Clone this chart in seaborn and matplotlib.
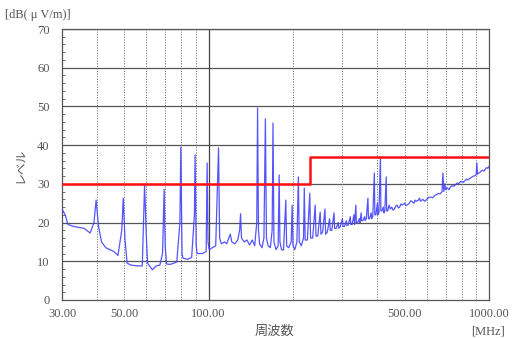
import matplotlib
matplotlib.use("Agg")
import matplotlib.pyplot as plt
import matplotlib.ticker as mticker
import numpy as np
import pandas as pd
import seaborn as sns

# Measured radiated emission (frequency in MHz, level in dB(uV/m))
freq_mhz = [
    30.0, 30.8, 31.5, 33.0, 36.0, 37.8, 39.0, 39.7, 40.5, 41.5, 43.0, 46.0, 47.5,
    49.0, 49.6, 50.3, 51.2, 53.0, 56.0, 58.0, 59.1, 60.0, 60.6, 62.0, 63.0, 65.0,
    67.0, 68.5, 69.4, 70.0, 70.8, 73.0, 75.0, 77.0, 79.0, 79.6, 80.4, 81.0, 84.0,
    87.0, 89.0, 89.5, 90.3, 91.0, 95.0, 98.0, 98.8, 99.5, 100.5, 103.0, 106.0,
    108.5, 109.5, 111.0, 114.0, 116.0, 118.0, 119.5, 121.0, 124.0, 127.0, 129.0,
    130.0, 131.0, 134.0, 137.0, 140.0, 143.0, 146.0, 148.5, 149.5, 150.6, 152.0,
    155.0, 157.5, 159.4, 160.8, 163.0, 166.0, 168.5, 169.7, 171.0, 174.0, 177.0,
    178.5, 179.6, 182.0, 185.0, 188.5, 189.8, 193.0, 197.0, 198.6, 200.0, 203.0,
    206.5, 209.0, 210.5, 214.0, 218.0, 219.4, 221.0, 225.0, 229.5, 231.0, 235.0,
    240.0, 241.5, 245.0, 250.0, 251.5, 255.0, 260.0, 261.5, 265.0, 270.0, 271.5,
    275.0, 280.0, 281.5, 285.0, 290.0, 291.5, 295.0, 300.0, 301.5, 305.0, 310.0,
    311.5, 315.0, 320.0, 321.5, 325.0, 330.0, 331.5, 335.0, 336.5, 340.0, 345.0,
    346.5, 350.0, 351.5, 355.0, 360.0, 361.5, 365.0, 370.0, 371.5, 375.0, 380.0,
    381.5, 385.0, 390.0, 391.5, 395.0, 400.0, 401.5, 405.0, 410.0, 411.5, 415.0,
    420.0, 421.5, 425.0, 430.0, 431.5, 435.0, 440.0, 445.0, 450.0, 455.0, 460.0,
    465.0, 470.0, 475.0, 480.0, 485.0, 490.0, 500.0, 505.0, 510.0, 520.0, 525.0,
    530.0, 540.0, 545.0, 550.0, 560.0, 565.0, 570.0, 580.0, 590.0, 600.0, 610.0,
    620.0, 630.0, 640.0, 650.0, 660.0, 670.0, 680.0, 685.0, 690.0, 695.0, 700.0,
    710.0, 720.0, 730.0, 740.0, 750.0, 760.0, 770.0, 780.0, 790.0, 800.0, 810.0,
    820.0, 830.0, 840.0, 850.0, 860.0, 870.0, 880.0, 890.0, 900.0, 905.0, 910.0,
    920.0, 930.0, 940.0, 950.0, 960.0, 970.0, 980.0, 990.0, 1000.0,
]
level_dbuv = [
    23.5, 22.0, 19.5, 19.0, 18.5, 17.3, 20.0, 25.8, 19.0, 15.0, 13.5, 12.5, 11.5,
    18.0, 26.3, 16.0, 9.5, 9.0, 8.8, 8.8, 29.7, 16.0, 9.5, 8.5, 7.8, 8.8,
    9.0, 12.0, 28.6, 14.0, 9.3, 9.2, 9.5, 9.8, 20.0, 39.5, 12.0, 10.8, 10.5,
    11.0, 22.0, 37.5, 14.0, 12.0, 12.0, 12.5, 35.4, 15.0, 13.0, 13.5, 14.0,
    39.3, 16.0, 14.5, 15.0, 14.5, 16.0, 17.0, 15.0, 14.5, 15.5, 18.0,
    22.3, 16.0, 15.0, 15.5, 14.2, 15.5, 14.0, 20.0, 49.6, 18.0, 14.5,
    13.5, 16.0, 46.8, 16.0, 14.0, 13.5, 18.0, 45.7, 15.0, 13.0, 14.0,
    32.3, 15.0, 13.0, 12.9, 25.8, 14.0, 13.5, 15.0, 24.5, 14.0, 13.0,
    15.0, 31.8, 15.0, 14.0, 16.0, 28.9, 15.5, 15.5, 27.6, 16.0, 16.0,
    24.5, 16.5, 16.5, 22.7, 17.0, 17.5, 23.5, 17.0, 17.5, 21.0, 18.0,
    18.0, 22.5, 18.5, 18.5, 20.0, 18.5, 19.0, 21.0, 19.0, 19.0, 20.5,
    19.2, 19.5, 21.5, 19.5, 19.5, 22.0, 19.5, 24.5, 20.0, 20.0, 21.0,
    20.0, 22.5, 20.5, 20.5, 21.5, 20.5, 21.0, 26.3, 21.0, 21.0, 22.5,
    21.0, 21.5, 32.8, 22.0, 22.0, 25.0, 22.0, 22.5, 37.0, 23.0, 23.0,
    24.0, 22.5, 23.0, 31.8, 23.0, 23.0, 24.5, 23.5, 24.0, 23.2, 23.5,
    24.3, 24.5, 23.8, 24.0, 24.8, 24.5, 25.0, 24.4, 24.5, 25.0, 25.6,
    25.5, 25.0, 25.8, 25.5, 25.8, 26.3, 25.5, 26.0, 25.5, 26.0, 26.5,
    26.6, 26.4, 27.0, 27.2, 27.5, 27.4, 28.0, 32.8, 28.0, 30.0, 28.5,
    29.0, 28.5, 29.3, 29.5, 29.4, 29.8, 30.2, 30.0, 30.6, 30.5, 30.4,
    30.8, 31.2, 31.0, 31.3, 31.5, 31.8, 32.0, 32.1, 32.3, 35.4, 32.5,
    32.8, 33.0, 33.4, 33.5, 33.3, 33.8, 34.2, 34.0, 34.5,
]

# Class B limit line (step at 230 MHz)
limit_freq = [30.0, 230.0, 230.0, 1000.0]
limit_level = [30.0, 30.0, 37.0, 37.0]

x_ticks = [30, 50, 100, 500, 1000]
x_tick_labels = ["30.00", "50.00", "100.00", "500.00", "1000.00"]
y_ticks = [0, 10, 20, 30, 40, 50, 60, 70]

sns.set_theme(style="white")
plt.rcParams["font.family"] = ["Liberation Serif", "Noto Sans CJK JP"]

fig = plt.figure(figsize=(5.12, 3.38), dpi=100)
ax = fig.add_axes([62 / 512, 38 / 338, 427 / 512, 271 / 338])

trace = pd.DataFrame({"freq": freq_mhz, "level": level_dbuv})
limit = pd.DataFrame({"freq": limit_freq, "level": limit_level})

sns.lineplot(data=trace, x="freq", y="level", ax=ax, color="#4242ff",
             linewidth=0.9, alpha=0.9, sort=False, estimator=None, zorder=3)
sns.lineplot(data=limit, x="freq", y="level", ax=ax, color="#ff1010",
             linewidth=1.8, sort=False, estimator=None, zorder=4)

ax.set_xscale("log")
ax.set_xlim(30, 1000)
ax.set_ylim(0, 70)

# Grid: solid horizontals, dotted verticals at each minor decade step
for y in y_ticks[1:]:
    ax.axhline(y, color="#555555", linewidth=0.9, zorder=1)
for f in [40, 50, 60, 70, 80, 90, 200, 300, 400, 500, 600, 700, 800, 900]:
    ax.axvline(f, color="#777777", linewidth=0.7, linestyle=(0, (1.2, 1.5)), zorder=1)
ax.axvline(100, color="#444444", linewidth=0.9, zorder=1)

ax.xaxis.set_major_locator(mticker.FixedLocator(x_ticks))
ax.xaxis.set_minor_locator(mticker.NullLocator())
ax.set_xticks(x_ticks)
ax.set_xticklabels(x_tick_labels)
ax.set_yticks(y_ticks)
ax.yaxis.set_minor_locator(mticker.MultipleLocator(2))
ax.tick_params(axis="x", which="both", length=0, pad=6, labelsize=9, labelcolor="#555555")
ax.tick_params(axis="y", which="major", length=0, pad=9, labelsize=9, labelcolor="#555555")
ax.tick_params(axis="y", which="minor", direction="in", length=2.5, width=0.6,
               color="#555555", left=True)

for side in ["left", "bottom", "top", "right"]:
    ax.spines[side].set_visible(True)
    ax.spines[side].set_color("#555555")
    ax.spines[side].set_linewidth(0.9)

ax.set_xlabel("")
ax.set_ylabel("")

fig.text(5 / 512, 1 - 15 / 338, "[dB( μ V/m)]", fontsize=9, color="#555555",
         va="center", ha="left", family=["Liberation Serif", "DejaVu Sans"])
fig.text(21 / 512, 1 - 165 / 338, "レベル", fontsize=8.5, color="#555555",
         rotation=90, va="center", ha="center", family=["Noto Sans CJK JP"])
fig.text(274 / 512, 1 - 331 / 338, "周波数", fontsize=9.5, color="#555555",
         va="center", ha="center", family=["Noto Sans CJK JP"])
fig.text(488 / 512, 1 - 331 / 338, "[MHz]", fontsize=9, color="#555555",
         va="center", ha="center")

fig.savefig("out.png", dpi=100, facecolor="white")
